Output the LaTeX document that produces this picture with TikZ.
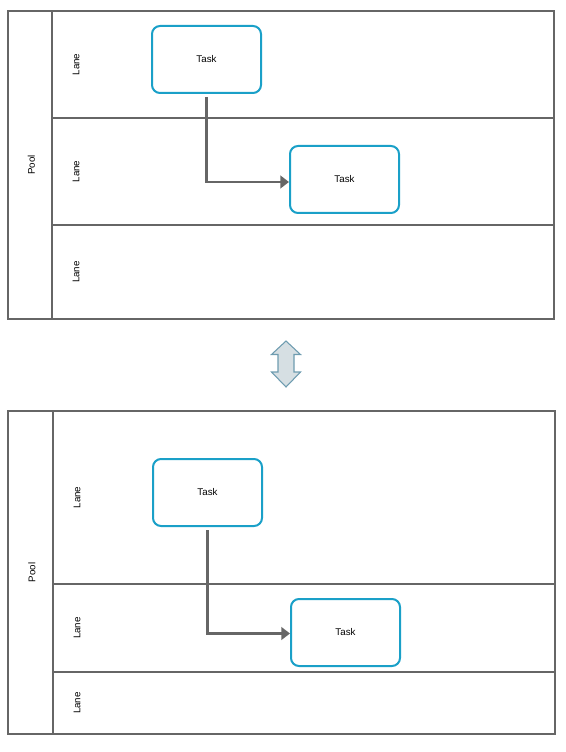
\documentclass[tikz,border=0pt]{standalone}
\usepackage{fontspec}
\setmainfont{Liberation Sans}
\usetikzlibrary{arrows.meta,calc}
\definecolor{linegray}{HTML}{666666}
\definecolor{taskblue}{HTML}{1AA0C8}
\definecolor{arrfill}{HTML}{D6DFE3}
\definecolor{arrdraw}{HTML}{6E9CB0}
\begin{document}
\begin{tikzpicture}[x=0.75pt,y=-0.75pt,
  pool/.style={draw=linegray,line width=1.5pt},
  lbl/.style={rotate=90,font=\fontsize{7.3}{8}\selectfont,inner sep=0pt},
  task/.style={draw=taskblue,line width=1.5pt,rounded corners=6pt,fill=white,
    minimum width=81.75pt,minimum height=50.25pt,inner sep=0pt,
    font=\fontsize{7.3}{8}\selectfont},
  conn/.style={draw=linegray,line width=2pt,
    -{Triangle[length=6.5pt,width=9.5pt]}},
  swap/.style={draw=arrdraw,fill=arrfill,line width=0.8pt,line join=miter}]
\useasboundingbox (0,0) rectangle (566,752);

% ---------- top pool ----------
\draw[pool] (8,11) rectangle (554,319);
\draw[pool] (52,11) -- (52,319);
\draw[pool] (52,118) -- (554,118);
\draw[pool] (52,225) -- (554,225);
\node[lbl] (p1) at (31.5,165) {Pool};
\node[lbl] (p1l1) at (76,64.5) {Lane};
\node[lbl] (p1l2) at (76,171.5) {Lane};
\node[lbl] (p1l3) at (76,272) {Lane};
\node[task] (t1a) at (206.5,59.5) {\raisebox{-1pt}{Task}};
\node[task] (t1b) at (344.5,179.5) {\raisebox{-1pt}{Task}};
\coordinate (s1) at ($(t1a.south)+(0,3)$);
\coordinate (e1) at ($(t1b.west)+(0,2.5)$);
\draw[conn] (s1) |- (e1);

% ---------- swap arrow ----------
\draw[swap] (286,341) -- (300.5,354.5) -- (294,354.5) -- (294,372) -- (300.5,372)
  -- (286,387) -- (271.5,372) -- (278,372) -- (278,354.5) -- (271.5,354.5) -- cycle;

% ---------- bottom pool ----------
\draw[pool] (8,411) rectangle (555,734);
\draw[pool] (53,411) -- (53,734);
\draw[pool] (53,584) -- (555,584);
\draw[pool] (53,672) -- (555,672);
\node[lbl] (p2) at (32,572.5) {Pool};
\node[lbl] (p2l1) at (77,497.5) {Lane};
\node[lbl] (p2l2) at (77,628) {Lane};
\node[lbl] (p2l3) at (77,703) {Lane};
\node[task] (t2a) at (207.5,492.5) {\raisebox{-1pt}{Task}};
\node[task] (t2b) at (345.5,632.5) {\raisebox{-1pt}{Task}};
\coordinate (s2) at ($(t2a.south)+(0,3)$);
\coordinate (e2) at ($(t2b.west)+(0,1)$);
\draw[conn] (s2) |- (e2);
\end{tikzpicture}
\end{document}
